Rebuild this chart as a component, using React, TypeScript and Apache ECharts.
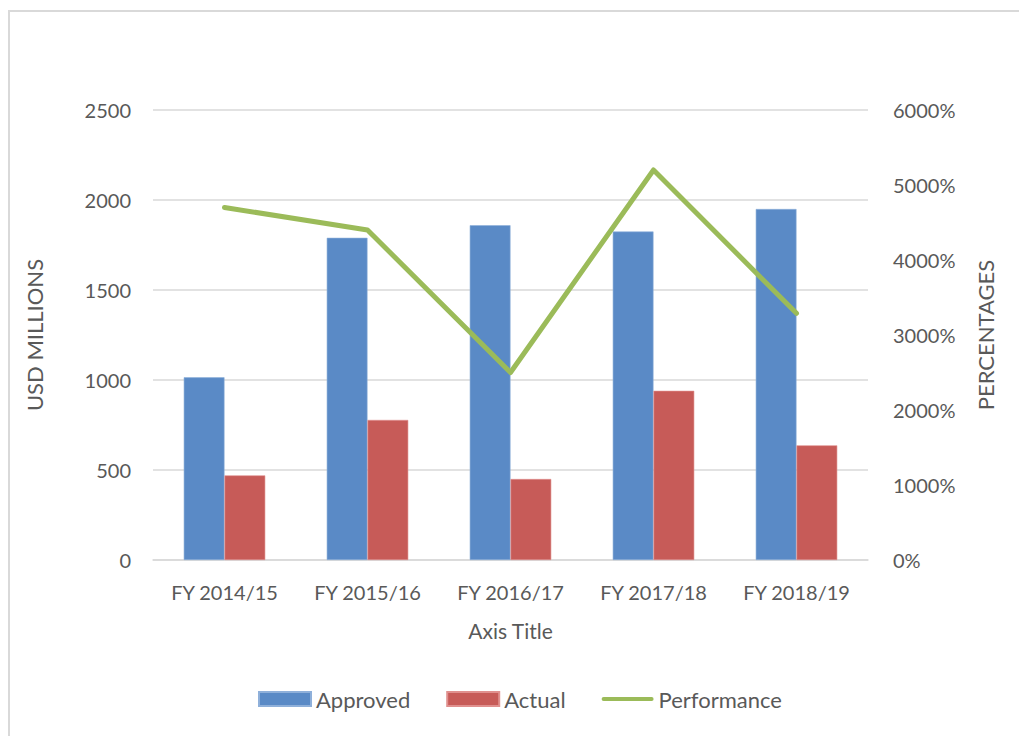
import React, { useEffect, useRef } from "react";
import * as echarts from "echarts";

const categories = ["FY 2014/15", "FY 2015/16", "FY 2016/17", "FY 2017/18", "FY 2018/19"];
const approved = [1015, 1790, 1860, 1825, 1950];
const actual = [470, 778, 450, 940, 637];
const performance = [4700, 4400, 2500, 5200, 3290];

const FONT = "Lato, 'Open Sans', sans-serif";
const TXT = "#595959";
const GRID = "#d9d9d9";

export default function App() {
  const ref = useRef<HTMLDivElement>(null);
  useEffect(() => {
    if (!ref.current) return;
    const chart = echarts.init(ref.current, undefined, { renderer: "svg" });
    chart.setOption({
      animation: false,
      backgroundColor: "#fff",
      textStyle: { fontFamily: FONT, color: TXT },
      graphic: [
        {
          type: "rect",
          shape: { x: 9, y: 11, width: 1030, height: 740 },
          style: { fill: "none", stroke: "#d9d9d9", lineWidth: 2 },
          silent: true,
        },
      ],
      grid: { left: 153, right: 151, top: 110, bottom: 176, containLabel: false },
      legend: {
        left: 253,
        top: 683,
        itemWidth: 52,
        itemHeight: 14,
        itemGap: 36,
        textStyle: { fontFamily: FONT, fontSize: 22, color: TXT },
        data: [
          { name: "Approved", icon: "rect" },
          { name: "Actual", icon: "rect" },
          {
            name: "Performance",
            icon: "path://M0,0 M2,5 L50,5 A2,2 0 0 1 50,9 L2,9 A2,2 0 0 1 2,5 Z M52,14",
            itemStyle: { color: "#9BBB59" },
          },
        ],
      },
      xAxis: {
        type: "category",
        data: categories,
        name: "Axis Title",
        nameLocation: "middle",
        nameGap: 60,
        nameTextStyle: { fontFamily: FONT, fontSize: 21, color: TXT },
        axisLine: { lineStyle: { color: GRID, width: 1.5 } },
        axisTick: { show: false },
        axisLabel: { fontFamily: FONT, fontSize: 20, color: TXT, margin: 22 },
      },
      yAxis: [
        {
          type: "value",
          min: 0,
          max: 2500,
          interval: 500,
          name: "USD MILLIONS",
          nameLocation: "middle",
          nameGap: 108,
          nameTextStyle: { fontFamily: FONT, fontSize: 22, color: TXT },
          axisLine: { show: false },
          axisTick: { show: false },
          axisLabel: { fontFamily: FONT, fontSize: 20, color: TXT, margin: 22, formatter: (v: number) => String(v) },
          splitLine: { lineStyle: { color: GRID, width: 1.5 } },
        },
        {
          type: "value",
          min: 0,
          max: 6000,
          interval: 1000,
          name: "PERCENTAGES",
          nameLocation: "middle",
          nameGap: 106,
          nameTextStyle: { fontFamily: FONT, fontSize: 22, color: TXT },
          axisLine: { show: false },
          axisTick: { show: false },
          axisLabel: { fontFamily: FONT, fontSize: 20, color: TXT, margin: 25, formatter: (v: number) => v + "%" },
          splitLine: { show: false },
        },
      ],
      series: [
        {
          name: "Approved",
          type: "bar",
          data: approved,
          barGap: "0%",
          barCategoryGap: "43%",
          itemStyle: { color: "#5A8AC6", borderColor: "#8FB0DA", borderWidth: 0.6 },
        },
        {
          name: "Actual",
          type: "bar",
          data: actual,
          itemStyle: { color: "#C75B58", borderColor: "#E0908E", borderWidth: 0.6 },
        },
        {
          name: "Performance",
          type: "line",
          yAxisIndex: 1,
          data: performance,
          symbol: "none",
          lineStyle: { color: "#9BBB59", width: 5, cap: "round", join: "round" },
          itemStyle: { color: "#9BBB59" },
        },
      ],
    });
    return () => chart.dispose();
  }, []);
  return (
    <div
      ref={ref}
      style={{ position: "fixed", left: 0, top: 0, width: 1019, height: 736 }}
    />
  );
}
